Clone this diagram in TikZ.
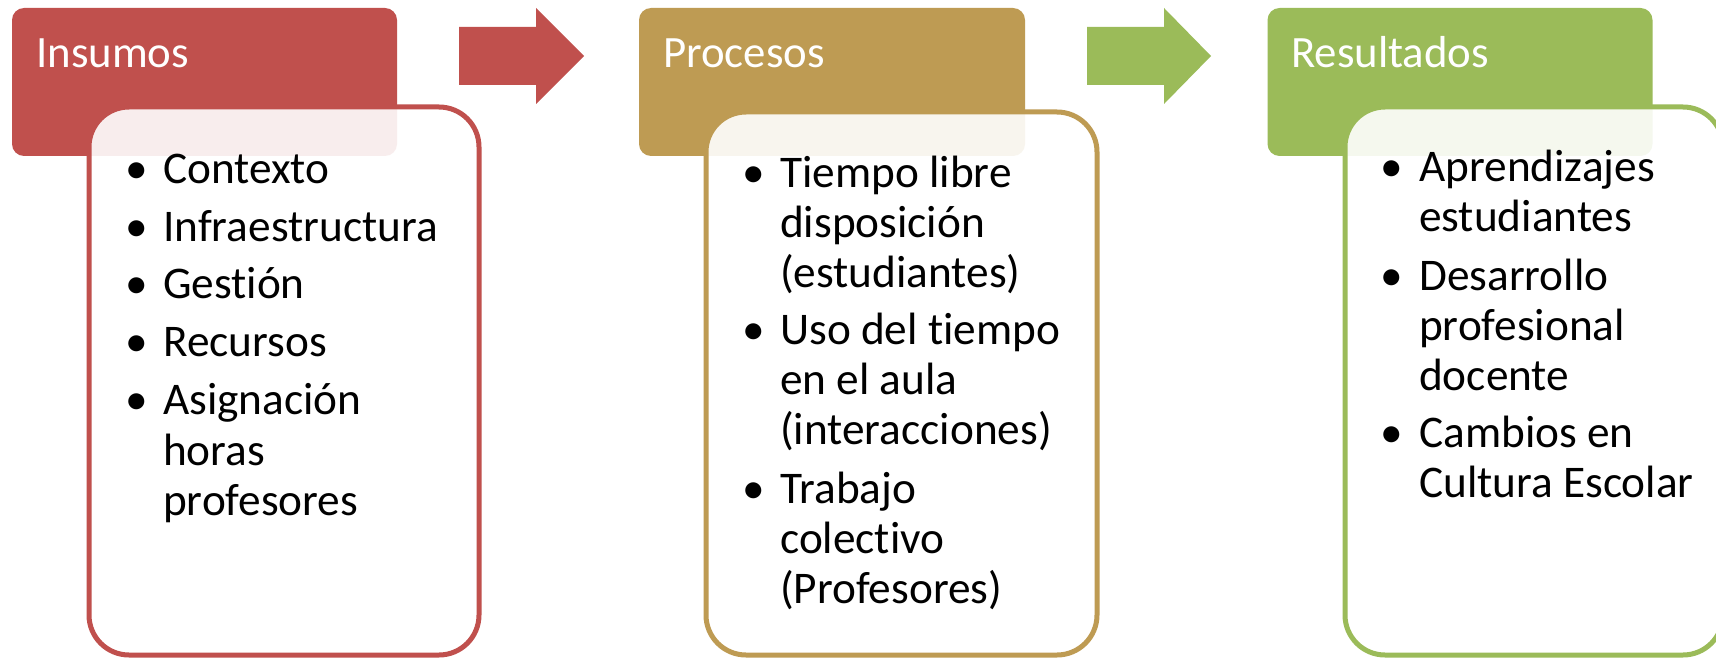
\documentclass[tikz,border=0pt]{standalone}
\usepackage{fontspec}
\setmainfont{Carlito}[Ligatures=NoCommon]
\definecolor{cred}{HTML}{C0504D}
\definecolor{cgold}{HTML}{BE9B53}
\definecolor{cgreen}{HTML}{9BBB59}
\newcommand{\bodyfont}{\fontsize{45.3}{50}\selectfont}
\newcommand{\headfont}{\fontsize{44.8}{50}\selectfont}
\begin{document}
\begin{tikzpicture}[x=1pt,y=-1pt,
  headbox/.style={fill=#1, rounded corners=12pt, inner sep=0, minimum height=148pt},
  bodybox/.style={draw=#1, line width=5pt, fill=white, fill opacity=0.9, rounded corners=40pt, inner sep=0},
  headtxt/.style={anchor=base west, inner sep=0, text=white, font=\headfont},
  txt/.style={anchor=base west, inner sep=0, font=\bodyfont},
  bul/.style={anchor=base, inner sep=0, font=\bodyfont},
  blockarrow/.style={fill=#1}]
\useasboundingbox (0,0) rectangle (1716,658);
\fill[white] (0,0) rectangle (1716,658);

% headers
\node[headbox=cred, minimum width=385pt] (h1) at (204.5,82) {};
\node[headbox=cgold, minimum width=386pt] (h2) at (832,82) {};
\node[headbox=cgreen, minimum width=385pt] (h3) at (1460,82) {};
\node[headtxt] (h1t) at (36,68) {Insumos};
\node[headtxt] (h2t) at (663,68) {Procesos};
\node[headtxt] (h3t) at (1291,68) {Resultados};

% block arrows
\fill[blockarrow=cred] (459,27) -- (536,27) -- (536,8) -- (584,56) -- (536,104) -- (536,85) -- (459,85) -- cycle;
\fill[blockarrow=cgreen] (1087,27) -- (1164,27) -- (1164,8) -- (1211,56) -- (1164,104) -- (1164,85) -- (1087,85) -- cycle;

% bodies
\node[bodybox=cred, minimum width=390pt, minimum height=548pt] (b1) at (284,381) {};
\node[bodybox=cgold, minimum width=391pt, minimum height=543pt] (b2) at (901.5,383.5) {};
\node[bodybox=cgreen, minimum width=378pt, minimum height=548pt] (b3) at (1534,381) {};

% body 1
\node[bul] (p1) at (137,183) {•};
\node[txt] (t1) at (163,183) {Contexto};
\node[bul] (p2) at (137,241) {•};
\node[txt] (t2) at (163,241) {Infraestructura};
\node[bul] (p3) at (137,298) {•};
\node[txt] (t3) at (163,298) {Gestión};
\node[bul] (p4) at (137,356) {•};
\node[txt] (t4) at (163,356) {Recursos};
\node[bul] (p5) at (137,414) {•};
\node[txt] (t5a) at (163,414) {Asignación};
\node[txt] (t5b) at (163,465) {horas};
\node[txt] (t5c) at (163,515) {profesores};

% body 2
\node[bul] (q1) at (754,187) {•};
\node[txt] (u1a) at (780,187) {Tiempo libre};
\node[txt] (u1b) at (780,237) {disposición};
\node[txt] (u1c) at (780,287) {(estudiantes)};
\node[bul] (q2) at (754,344) {•};
\node[txt] (u2a) at (780,344) {Uso del tiempo};
\node[txt] (u2b) at (780,394) {en el aula};
\node[txt] (u2c) at (780,444) {(interacciones)};
\node[bul] (q3) at (754,503) {•};
\node[txt] (u3a) at (780,503) {Trabajo};
\node[txt] (u3b) at (780,553) {colectivo};
\node[txt] (u3c) at (780,603) {(Profesores)};

% body 3
\node[bul] (r1) at (1392,182) {•};
\node[txt] (v1a) at (1419,182) {Aprendizajes};
\node[txt] (v1b) at (1419,231) {estudiantes};
\node[bul] (r2) at (1392,290) {•};
\node[txt] (v2a) at (1419,290) {Desarrollo};
\node[txt] (v2b) at (1419,340) {profesional};
\node[txt] (v2c) at (1419,390) {docente};
\node[bul] (r3) at (1392,447) {•};
\node[txt] (v3a) at (1419,447) {Cambios en};
\node[txt] (v3b) at (1419,497) {Cultura Escolar};
\end{tikzpicture}
\end{document}
